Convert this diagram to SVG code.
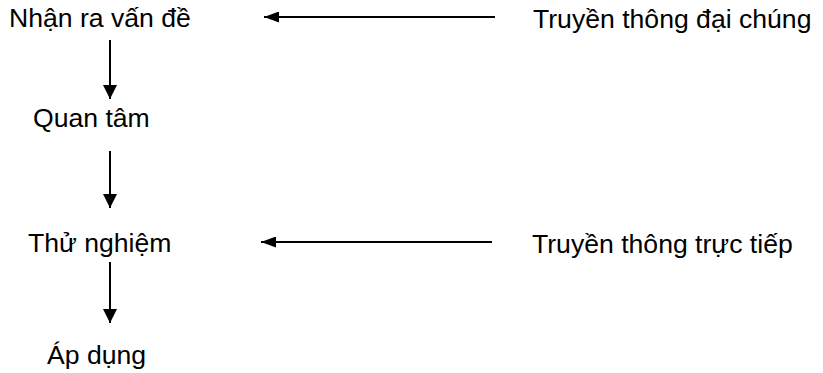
<svg xmlns="http://www.w3.org/2000/svg" width="823" height="373" viewBox="0 0 823 373">
  <style>
    text { font-family: "Liberation Sans", Arial, sans-serif; font-size: 26.6px; fill: #000; }
    .conn line { stroke: #000; stroke-width: 2; }
  </style>
  <defs>
    <!-- heads for the vertical chain -->
    <marker id="head-v" viewBox="0 0 14 14" refX="14" refY="7" markerWidth="14" markerHeight="14" markerUnits="userSpaceOnUse" orient="auto">
      <path d="M0,0 L14,7 L0,14 Z" fill="#000"/>
    </marker>
    <!-- heads for the horizontal inputs -->
    <marker id="head-h" viewBox="0 0 15 11" refX="15" refY="5.5" markerWidth="15" markerHeight="11" markerUnits="userSpaceOnUse" orient="auto">
      <path d="M0,0 L15,5.5 L0,11 Z" fill="#000"/>
    </marker>
  </defs>
  <rect width="823" height="373" fill="#fff"/>

  <g id="nhan-ra-van-de"><text x="9" y="27">Nhận ra vấn đề</text></g>
  <g id="quan-tam"><text x="33" y="127">Quan tâm</text></g>
  <g id="thu-nghiem"><text x="28" y="252">Thử nghiệm</text></g>
  <g id="ap-dung"><text x="47" y="364">Áp dụng</text></g>
  <g id="truyen-thong-dai-chung"><text x="533" y="28">Truyền thông đại chúng</text></g>
  <g id="truyen-thong-truc-tiep"><text x="532" y="253">Truyền thông trực tiếp</text></g>

  <g class="conn">
    <line x1="110" y1="40" x2="110" y2="99" marker-end="url(#head-v)"/>
    <line x1="110" y1="151" x2="110" y2="208" marker-end="url(#head-v)"/>
    <line x1="110" y1="262" x2="110" y2="323" marker-end="url(#head-v)"/>
    <line x1="495" y1="17" x2="264" y2="17" marker-end="url(#head-h)"/>
    <line x1="492" y1="242" x2="261" y2="242" marker-end="url(#head-h)"/>
  </g>
</svg>
